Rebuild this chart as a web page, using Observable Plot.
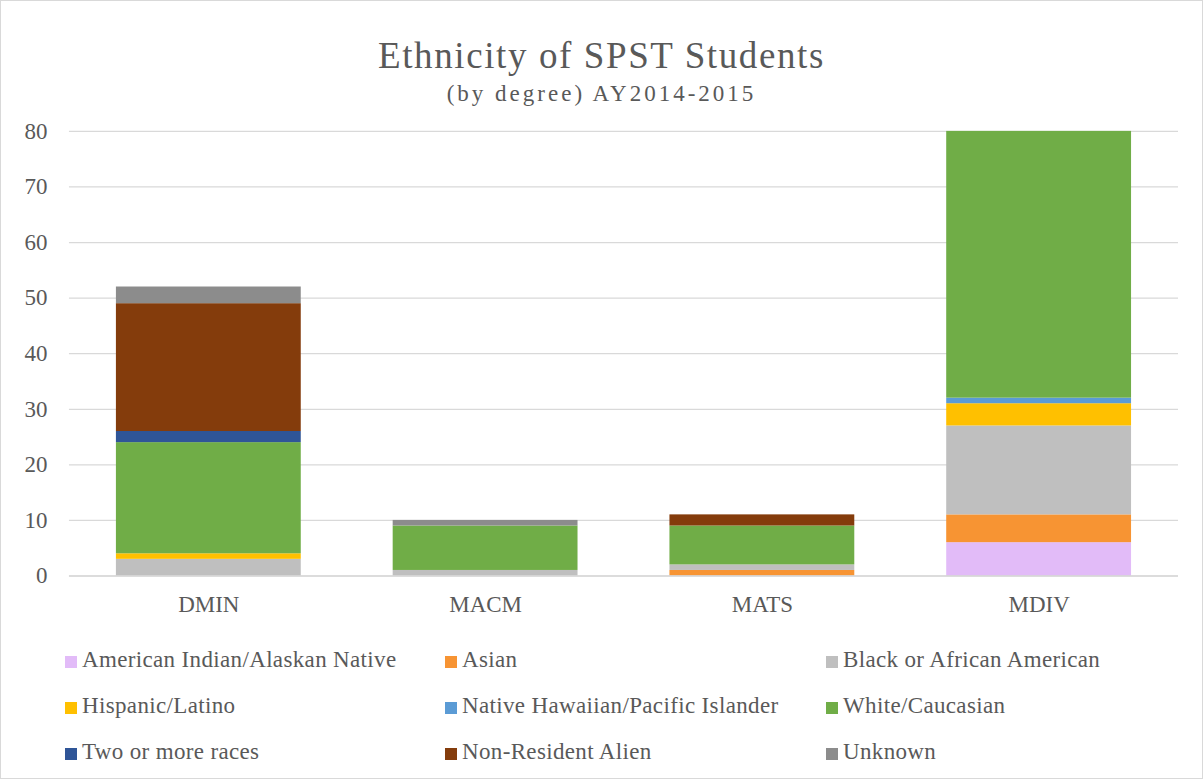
<!DOCTYPE html>
<html>
<head>
<meta charset="utf-8">
<script src="https://cdn.jsdelivr.net/npm/d3@7"></script>
<script src="https://cdn.jsdelivr.net/npm/@observablehq/plot@0.6"></script>
<style>
  html, body { margin: 0; padding: 0; background: #fff; }
  #frame {
    position: relative; width: 1201px; height: 777px;
    border: 1px solid #d9d9d9; overflow: hidden;
    font-family: "Liberation Serif", "Times New Roman", serif; color: #595959;
  }
  #title { position: absolute; left: 0; width: 1201px; top: 35px; text-align: center; font-size: 37px; line-height: 40px; letter-spacing: 1.6px; }
  #subtitle { position: absolute; left: 0; width: 1201px; top: 81px; text-align: center; font-size: 23px; line-height: 24px; letter-spacing: 3px; }
  #chart { position: absolute; left: -1px; top: -1px; }
  .lg { position: absolute; font-size: 23px; line-height: 22px; white-space: nowrap; letter-spacing: 0.35px; }
  .lg i { position: absolute; left: -17px; top: 7px; width: 12px; height: 12px; }
</style>
</head>
<body>
<div id="frame">
  <div id="title">Ethnicity of SPST Students</div>
  <div id="subtitle">(by degree) AY2014-2015</div>
  <div id="chart"></div>
  <div id="legend"></div>
</div>
<script>
// Degree programs along the x axis
const degrees = ["DMIN", "MACM", "MATS", "MDIV"];

// Ethnic groups, bottom of each stack first
const ethnicities = [
  "American Indian/Alaskan Native",
  "Asian",
  "Black or African American",
  "Hispanic/Latino",
  "Native Hawaiian/Pacific Islander",
  "White/Caucasian",
  "Two or more races",
  "Non-Resident Alien",
  "Unknown"
];

const colors = ["#e2bbf8", "#f79433", "#bfbfbf", "#ffc000", "#5b9bd5", "#70ad47", "#2f5597", "#843c0c", "#8c8c8c"];

// Student counts per degree (DMIN, MACM, MATS, MDIV)
const americanIndian  = [0, 0, 0, 6];
const asian           = [0, 0, 1, 5];
const black           = [3, 1, 1, 16];
const hispanic        = [1, 0, 0, 4];
const pacificIslander = [0, 0, 0, 1];
const white           = [20, 8, 7, 48];
const twoOrMore       = [2, 0, 0, 0];
const nonResident     = [23, 0, 2, 0];
const unknown         = [3, 1, 0, 0];

const yTicks = [0, 10, 20, 30, 40, 50, 60, 70, 80];

const series = [americanIndian, asian, black, hispanic, pacificIslander, white, twoOrMore, nonResident, unknown];
const rows = [];
series.forEach((vals, i) => {
  vals.forEach((v, j) => rows.push({degree: degrees[j], ethnicity: ethnicities[i], count: v}));
});

const chart = Plot.plot({
  width: 1203,
  height: 626,
  marginTop: 131,
  marginBottom: 50,
  marginLeft: 69,
  marginRight: 24,
  style: {fontFamily: '"Liberation Serif", "Times New Roman", serif', fontSize: "23px", color: "#595959", background: "transparent"},
  x: {domain: degrees, label: null, tickSize: 0, tickPadding: 20, paddingInner: 0.333, paddingOuter: 0.1665},
  y: {domain: [0, 80], ticks: yTicks, label: null, tickSize: 0, tickPadding: 22},
  color: {domain: ethnicities, range: colors},
  marks: [
    Plot.gridY(yTicks.filter(d => d > 0), {stroke: "#d9d9d9", strokeOpacity: 1, strokeWidth: 1.3}),
    Plot.barY(rows, Plot.stackY({x: "degree", y: "count", fill: "ethnicity", order: ethnicities})),
    Plot.ruleY([0], {stroke: "#d0d0d0", strokeWidth: 1.5})
  ]
});
document.getElementById("chart").appendChild(chart);

// Legend: three columns, three rows
const legend = document.getElementById("legend");
const colX = [81, 461, 842];
const rowY = [648, 694, 740];
ethnicities.forEach((name, i) => {
  const el = document.createElement("div");
  el.className = "lg";
  el.style.left = colX[i % 3] + "px";
  el.style.top = rowY[Math.floor(i / 3)] + "px";
  const sw = document.createElement("i");
  sw.style.background = colors[i];
  el.appendChild(sw);
  el.appendChild(document.createTextNode(name));
  legend.appendChild(el);
});
</script>
</body>
</html>
